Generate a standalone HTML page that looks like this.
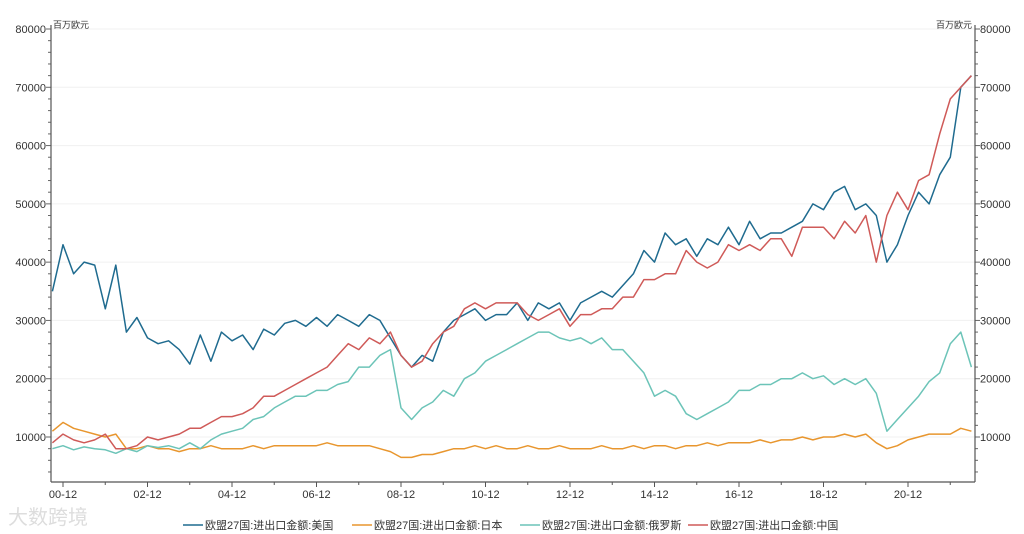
<!DOCTYPE html>
<html><head><meta charset="utf-8"><style>
html,body{margin:0;padding:0;background:#fff;}
svg{display:block;font-family:"Liberation Sans","Noto Sans CJK SC",sans-serif;}
</style></head><body>
<svg id="chart" width="1024" height="534" viewBox="0 0 1024 534" xmlns="http://www.w3.org/2000/svg">
<g id="grid"></g>
<g id="axes"></g>
<g id="series"></g>
<text x="53" y="28" font-size="9" fill="#333">百万欧元</text>
<text x="972" y="28" font-size="9" fill="#333" text-anchor="end">百万欧元</text>
<text x="8" y="524" font-size="20" fill="#ddd">大数跨境</text>
<g id="legend"></g>
</svg>
<script>
const startYear = 2000, startMonth = 9, stepMonths = 3;
const usValues = [35000,43000,38000,40000,39500,32000,39500,28000,30500,27000,26000,26500,25000,22500,27500,23000,28000,26500,27500,25000,28500,27500,29500,30000,29000,30500,29000,31000,30000,29000,31000,30000,27000,24000,22000,24000,23000,28000,30000,31000,32000,30000,31000,31000,33000,30000,33000,32000,33000,30000,33000,34000,35000,34000,36000,38000,42000,40000,45000,43000,44000,41000,44000,43000,46000,43000,47000,44000,45000,45000,46000,47000,50000,49000,52000,53000,49000,50000,48000,40000,43000,48000,52000,50000,55000,58000,70000,72000];
const japanValues = [11000,12500,11500,11000,10500,10000,10500,8000,8000,8500,8000,8000,7500,8000,8000,8500,8000,8000,8000,8500,8000,8500,8500,8500,8500,8500,9000,8500,8500,8500,8500,8000,7500,6500,6500,7000,7000,7500,8000,8000,8500,8000,8500,8000,8000,8500,8000,8000,8500,8000,8000,8000,8500,8000,8000,8500,8000,8500,8500,8000,8500,8500,9000,8500,9000,9000,9000,9500,9000,9500,9500,10000,9500,10000,10000,10500,10000,10500,9000,8000,8500,9500,10000,10500,10500,10500,11500,11000];
const russiaValues = [8000,8500,7800,8300,8000,7800,7200,8000,7500,8500,8200,8500,8000,9000,8000,9500,10500,11000,11500,13000,13500,15000,16000,17000,17000,18000,18000,19000,19500,22000,22000,24000,25000,15000,13000,15000,16000,18000,17000,20000,21000,23000,24000,25000,26000,27000,28000,28000,27000,26500,27000,26000,27000,25000,25000,23000,21000,17000,18000,17000,14000,13000,14000,15000,16000,18000,18000,19000,19000,20000,20000,21000,20000,20500,19000,20000,19000,20000,17500,11000,13000,15000,17000,19500,21000,26000,28000,22000];
const chinaValues = [9000,10500,9500,9000,9500,10500,8000,8000,8500,10000,9500,10000,10500,11500,11500,12500,13500,13500,14000,15000,17000,17000,18000,19000,20000,21000,22000,24000,26000,25000,27000,26000,28000,24000,22000,23000,26000,28000,29000,32000,33000,32000,33000,33000,33000,31000,30000,31000,32000,29000,31000,31000,32000,32000,34000,34000,37000,37000,38000,38000,42000,40000,39000,40000,43000,42000,43000,42000,44000,44000,41000,46000,46000,46000,44000,47000,45000,48000,40000,48000,52000,49000,54000,55000,62000,68000,70000,72000];
const xTickLabels = ["00-12","02-12","04-12","06-12","08-12","10-12","12-12","14-12","16-12","18-12","20-12"];
const yTickValues = [10000,20000,30000,40000,50000,60000,70000,80000];
const seriesNames = ["欧盟27国:进出口金额:美国","欧盟27国:进出口金额:日本","欧盟27国:进出口金额:俄罗斯","欧盟27国:进出口金额:中国"];
const seriesColors = ["#1f6b8f","#e8962e","#6cc4b8","#cf5a58"];

const NS="http://www.w3.org/2000/svg";
const X0=51,X1=975,Y80=29,Y10=437,YB=482;
const monthPx=(908-63)/240;
function xMonth(m){return 63+(m-((2000*12+12)))*monthPx;} // m absolute month index
function yScale(v){return Y10-(v-10000)*(Y10-Y80)/70000;}
function mk(tag,attrs,parent){const e=document.createElementNS(NS,tag);for(const k in attrs)e.setAttribute(k,attrs[k]);parent.appendChild(e);return e;}
const grid=document.getElementById('grid'),axes=document.getElementById('axes'),ser=document.getElementById('series'),leg=document.getElementById('legend');

yTickValues.forEach(v=>{
  const y=yScale(v);
  const g=mk('line',{x1:X0,x2:X1,y1:y,y2:y,stroke:'#f0f0f0','stroke-width':1},grid);
  
  
  const tl=mk('text',{x:X0-5,y:y+4,'font-size':11,fill:'#333','text-anchor':'end'},axes);
  tl.textContent=v;
  
  
  const tr=mk('text',{x:X1+5,y:y+4,'font-size':11,fill:'#333'},axes);
  tr.textContent=v;
  
  
});
// minor y ticks every 2000
for(let v=4000;v<=80000;v+=2000){const y=yScale(v);
  const w=(v%10000===0)?5:3;
  const a=mk('line',{x1:X0-w,x2:X0,y1:y,y2:y,stroke:'#666'},axes);
  
  
  const b=mk('line',{x1:X1,x2:X1+w,y1:y,y2:y,stroke:'#666'},axes);
  
  
}
const la=mk('line',{x1:X0,x2:X0,y1:Y80-4,y2:YB,stroke:'#555','stroke-width':1.2},axes);


const ra=mk('line',{x1:X1,x2:X1,y1:Y80-4,y2:YB,stroke:'#555','stroke-width':1.2},axes);


const xa=mk('line',{x1:X0,x2:X1,y1:YB,y2:YB,stroke:'#555','stroke-width':1.2},axes);


xTickLabels.forEach((lab,i)=>{
  const yr=2000+parseInt(lab.slice(0,2),10);
  const x=xMonth(yr*12+12);
  const t=mk('line',{x1:x,x2:x,y1:YB,y2:YB+5,stroke:'#555'},axes);
  
  
  const m=xMonth(yr*12+24);
  if(m<X1){const t2=mk('line',{x1:m,x2:m,y1:YB,y2:YB+3,stroke:'#555'},axes);
  
  }
  const tx=mk('text',{x:x,y:YB+16,'font-size':11,fill:'#333','text-anchor':'middle'},axes);
  tx.textContent=lab;
  
  
});
const allSeries=[usValues,japanValues,russiaValues,chinaValues];
const drawOrder=[1,2,0,3];
const keys=['us','japan','russia','china'];
drawOrder.forEach(si=>{
  const vals=allSeries[si];
  const pts=vals.map((v,i)=>{const m=startYear*12+startMonth+i*stepMonths;return xMonth(m).toFixed(1)+','+yScale(v).toFixed(1);}).join(' ');
  const p=mk('polyline',{points:pts,fill:'none',stroke:seriesColors[si],'stroke-width':1.5,'stroke-linejoin':'round'},ser);
  
  
});
const legX=[183,352,520,688];
seriesNames.forEach((n,i)=>{
  const l=mk('line',{x1:legX[i],x2:legX[i]+20,y1:525,y2:525,stroke:seriesColors[i],'stroke-width':1.5},leg);
  
  
  const t=mk('text',{x:legX[i]+22,y:529,'font-size':11,fill:'#333'},leg);
  t.textContent=n;
  
  
});
</script>
</body></html>
